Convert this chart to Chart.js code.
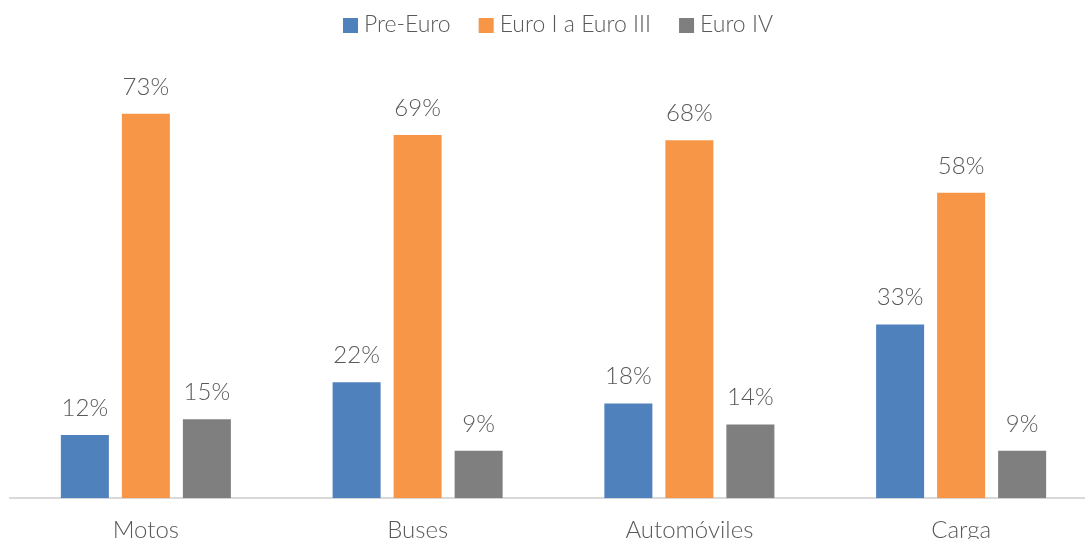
<!DOCTYPE html>
<html>
<head>
<meta charset="utf-8">
<script src="https://cdn.jsdelivr.net/npm/chart.js@4.4.0/dist/chart.umd.min.js"></script>
<style>
  html, body { margin: 0; padding: 0; overflow: hidden; background: #fff; }
  #wrap { position: relative; width: 1100px; height: 563px; }
</style>
</head>
<body>
<div id="wrap"><canvas id="c"></canvas></div>
<script>
const categories = ["Motos", "Buses", "Automóviles", "Carga"];
const preEuro = [12, 22, 18, 33];
const euroI_III = [73, 69, 68, 58];
const euroIV = [15, 9, 14, 9];
const seriesNames = ["Pre-Euro", "Euro I a Euro III", "Euro IV"];
const seriesColors = ["#4F81BD", "#F79646", "#7F7F7F"];

const FONT = "Lato, 'Open Sans', sans-serif";
const TEXT = "#595959";

const labelPlugin = {
  id: "barLabels",
  afterDatasetsDraw(chart) {
    const ctx = chart.ctx;
    ctx.save();
    ctx.font = "300 24px " + FONT;
    ctx.fillStyle = TEXT;
    ctx.textAlign = "center";
    ctx.textBaseline = "alphabetic";
    chart.data.datasets.forEach((ds, i) => {
      chart.getDatasetMeta(i).data.forEach((bar, j) => {
        ctx.fillText(ds.data[j] + "%", bar.x, bar.y - 19);
      });
    });
    ctx.restore();
  }
};

const legendPlugin = {
  id: "customLegend",
  afterDraw(chart) {
    const ctx = chart.ctx;
    ctx.save();
    ctx.font = "300 23px " + FONT;
    ctx.textBaseline = "alphabetic";
    ctx.textAlign = "left";
    const box = 15, gapBoxText = 6, gapItems = 28;
    const items = chart.data.datasets.map(ds => ({
      label: ds.label, color: ds.backgroundColor, w: ctx.measureText(ds.label).width
    }));
    let total = items.reduce((s, it) => s + box + gapBoxText + it.w, 0) + gapItems * (items.length - 1);
    let x = 558 - total / 2;
    const baseY = 32;
    items.forEach(it => {
      ctx.fillStyle = it.color;
      ctx.fillRect(x, 18, box, box);
      x += box + gapBoxText;
      ctx.fillStyle = TEXT;
      ctx.fillText(it.label, x, baseY);
      x += it.w + gapItems;
    });
    ctx.restore();
  }
};

new Chart(document.getElementById("c"), {
  type: "bar",
  data: {
    labels: categories,
    datasets: [
      { label: seriesNames[0], data: preEuro, backgroundColor: seriesColors[0] },
      { label: seriesNames[1], data: euroI_III, backgroundColor: seriesColors[1] },
      { label: seriesNames[2], data: euroIV, backgroundColor: seriesColors[2] }
    ]
  },
  options: {
    responsive: true,
    maintainAspectRatio: false,
    animation: false,
    layout: { padding: { left: 10, right: 3, top: 77, bottom: 0 } },
    datasets: { bar: { categoryPercentage: 0.6735, barPercentage: 0.787 } },
    plugins: {
      legend: { display: false },
      tooltip: { enabled: false }
    },
    scales: {
      x: {
        grid: { display: false, drawTicks: false },
        border: { color: "#D9D9D9", width: 2 },
        ticks: { font: { family: FONT, size: 24, weight: 300 }, color: TEXT, padding: 18 }
      },
      y: {
        display: false,
        min: 0,
        max: 80
      }
    }
  },
  plugins: [labelPlugin, legendPlugin]
});
</script>
</body>
</html>
